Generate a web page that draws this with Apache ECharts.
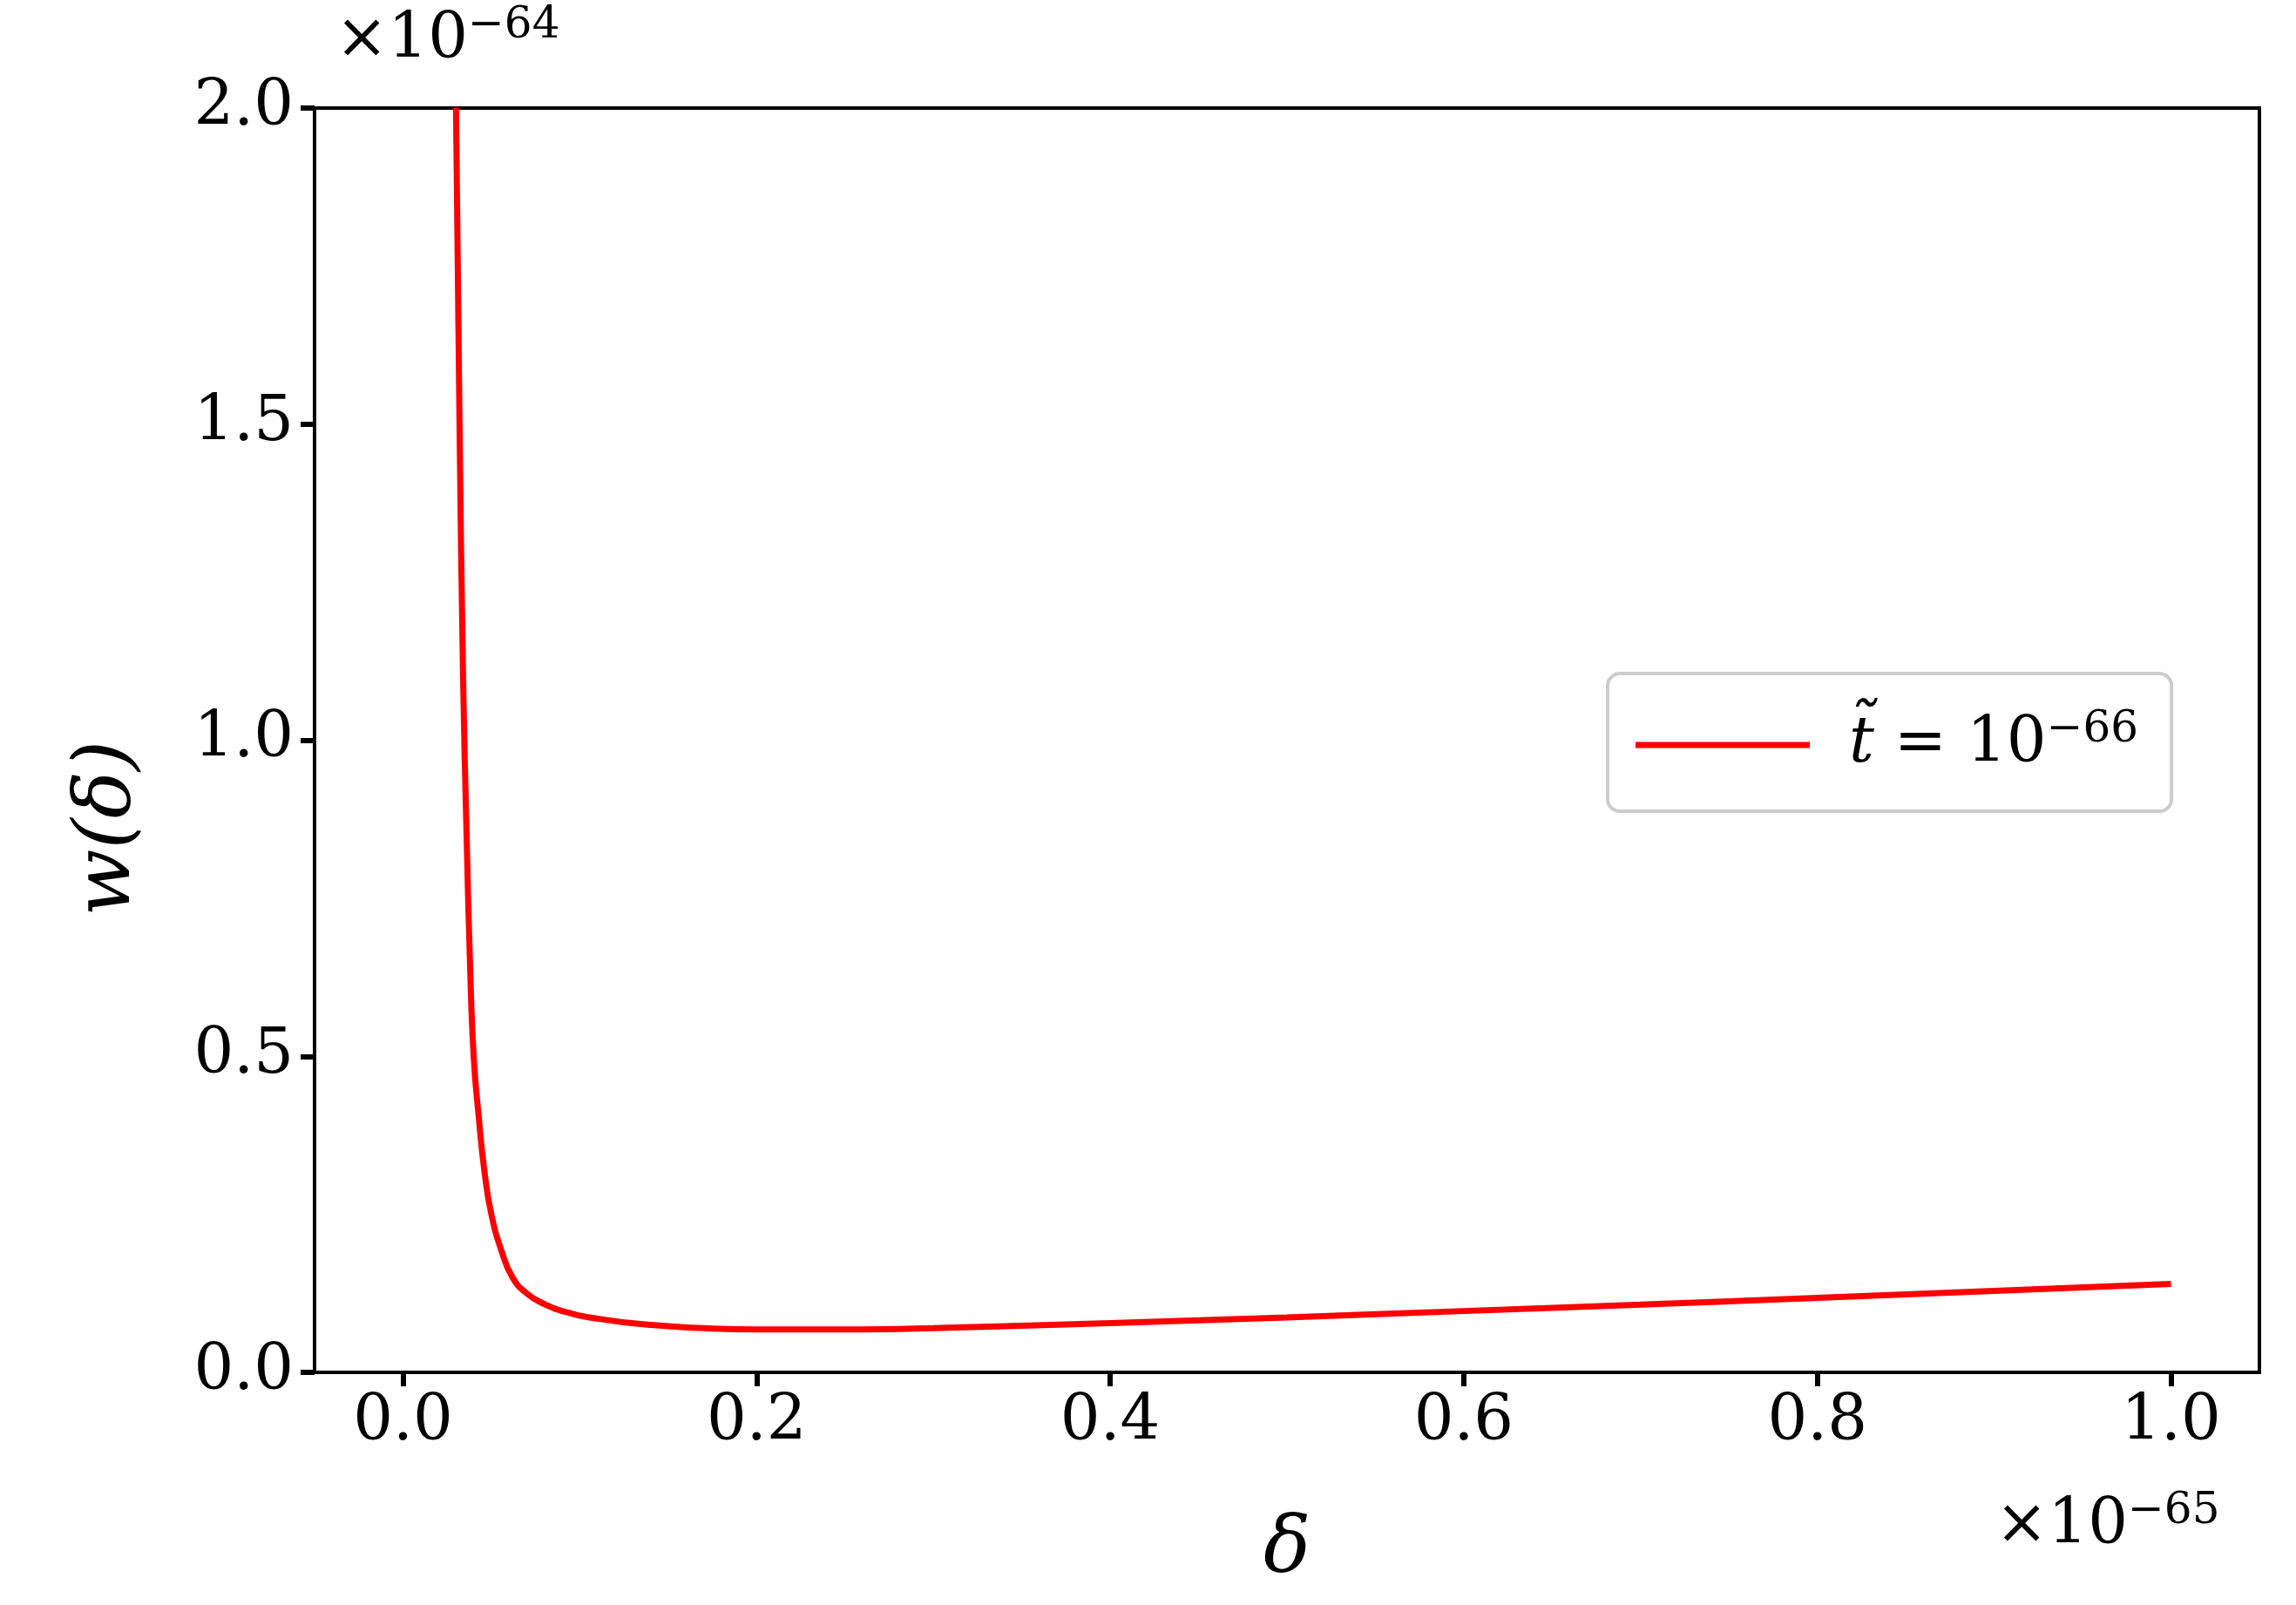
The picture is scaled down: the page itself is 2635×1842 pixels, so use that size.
<!DOCTYPE html>
<html>
<head>
<meta charset="utf-8">
<script src="https://cdn.jsdelivr.net/npm/echarts@6/dist/echarts.min.js"></script>
<style>html,body{margin:0;padding:0;background:#fff}#main{width:2635px;height:1842px}</style>
</head>
<body>
<div id="main"></div>
<script>
// delta in units of 1e-65, w in units of 1e-64
var deltaVals = [0.030, 0.032, 0.034, 0.036, 0.038, 0.040, 0.043, 0.046, 0.050, 0.056, 0.062, 0.070, 0.080, 0.090, 0.110, 0.140, 0.170, 0.200, 0.250, 0.300, 0.400, 0.500, 0.600, 0.700, 0.800, 0.900, 1.000];
var wVals     = [2.000, 1.500, 1.100, 0.850, 0.640, 0.500, 0.400, 0.320, 0.250, 0.190, 0.150, 0.125, 0.108, 0.097, 0.085, 0.075, 0.070, 0.068, 0.068, 0.070, 0.078, 0.087, 0.097, 0.107, 0.118, 0.129, 0.140];
var xTicks = [0.0, 0.2, 0.4, 0.6, 0.8, 1.0];
var yTicks = [0.0, 0.5, 1.0, 1.5, 2.0];

var font = 'DejaVu Serif';
var chart = echarts.init(document.getElementById('main'));
var pts = deltaVals.map(function (d, i) { return [d, wVals[i]]; });

chart.setOption({
  animation: false,
  grid: { left: 361, right: 42, top: 124, bottom: 267, show: true, borderColor: '#000', borderWidth: 4, backgroundColor: 'transparent' },
  xAxis: {
    type: 'value', min: -0.05, max: 1.05, interval: 0.2,
    splitLine: { show: false },
    axisLine: { onZero: false, lineStyle: { color: '#000', width: 4 } },
    axisTick: { length: 16, lineStyle: { width: 6, color: '#000' }, customValues: xTicks },
    axisLabel: { customValues: xTicks, fontFamily: font, fontSize: 72, color: '#000', margin: 22, formatter: function (v) { return v.toFixed(1); } }
  },
  yAxis: {
    type: 'value', min: 0, max: 2, interval: 0.5,
    splitLine: { show: false },
    axisLine: { show: true, onZero: false, lineStyle: { color: '#000', width: 4 } },
    axisTick: { show: true, length: 16, lineStyle: { width: 6, color: '#000' } },
    axisLabel: { fontFamily: font, fontSize: 72, color: '#000', margin: 24, formatter: function (v) { return v.toFixed(1); } }
  },
  legend: {
    left: 1845, top: 773, itemWidth: 200, itemHeight: 7, itemGap: 20,
    padding: [40, 38, 40, 32],
    borderColor: '#ccc', borderWidth: 4, borderRadius: 14, backgroundColor: '#fff',
    icon: 'rect',
    textStyle: {
      fontFamily: font, fontSize: 72, color: '#000', padding: [0, 0, 0, 40],
      rich: {
        i: { fontFamily: font, fontStyle: 'italic', fontSize: 72 },
        s: { fontFamily: font, fontSize: 50, padding: [0, 0, 34, 0] }
      }
    },
    formatter: function () { return '{i|t\u0303} = 10{s|\u221266}'; },
    data: ['t']
  },
  series: [{
    name: 't', type: 'line', data: pts, showSymbol: false, smooth: 0.5,
    lineStyle: { color: '#ff0000', width: 7 }, itemStyle: { color: '#ff0000' }
  }],
  graphic: [
    { type: 'text', left: 385, top: 5, style: { text: '\u00d710{s|\u221264}', font: '72px "DejaVu Serif"', fill: '#000', rich: { s: { fontSize: 50, fontFamily: font, padding: [0, 0, 34, 0] } } } },
    { type: 'text', left: 2290, top: 1710, style: { text: '\u00d710{s|\u221265}', font: '72px "DejaVu Serif"', fill: '#000', rich: { s: { fontSize: 50, fontFamily: font, padding: [0, 0, 34, 0] } } } },
    { type: 'text', left: 1450, top: 1735, style: { text: '\u03b4', font: 'italic 90px "DejaVu Serif"', fill: '#000' } },
    { type: 'text', left: 80, top: 850, rotation: Math.PI / 2, style: { text: 'w(\u03b4)', font: 'italic 90px "DejaVu Serif"', fill: '#000', align: 'center', verticalAlign: 'middle' } }
  ]
});
</script>
</body>
</html>
